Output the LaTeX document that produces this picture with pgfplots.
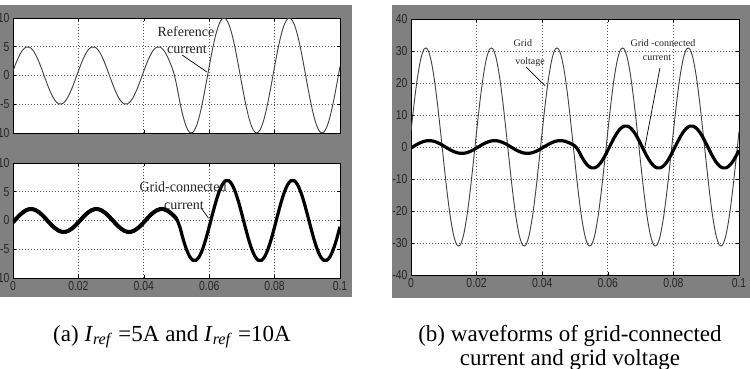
\documentclass[border=0pt]{standalone}
\usepackage{fontspec}
\setmainfont{Liberation Serif}
\newfontfamily\ticksf[FakeStretch=0.8]{Liberation Sans}
\usepackage{pgfplots}
\pgfplotsset{compat=1.18}
\usepackage{pgfplotstable}
\definecolor{panelgray}{rgb}{0.5,0.5,0.5}

\pgfplotstableread{
t iref igl vg igr
0.000 0.78 -0.31 4.84 -0.31
0.001 2.27 0.31 14.07 0.31
0.002 3.54 0.91 21.92 0.91
0.003 4.46 1.41 27.62 1.41
0.004 4.94 1.78 30.63 1.78
0.005 4.94 1.98 30.63 1.98
0.006 4.46 1.98 27.62 1.98
0.007 3.54 1.78 21.92 1.78
0.008 2.27 1.41 14.07 1.41
0.009 0.78 0.91 4.84 0.91
0.010 -0.78 0.31 -4.84 0.31
0.011 -2.27 -0.31 -14.07 -0.31
0.012 -3.54 -0.91 -21.92 -0.91
0.013 -4.46 -1.41 -27.62 -1.41
0.014 -4.94 -1.78 -30.63 -1.78
0.015 -4.94 -1.98 -30.63 -1.98
0.016 -4.46 -1.98 -27.62 -1.98
0.017 -3.54 -1.78 -21.92 -1.78
0.018 -2.27 -1.41 -14.07 -1.41
0.019 -0.78 -0.91 -4.84 -0.91
0.020 0.78 -0.31 4.84 -0.31
0.021 2.27 0.31 14.07 0.31
0.022 3.54 0.91 21.92 0.91
0.023 4.46 1.41 27.62 1.41
0.024 4.94 1.78 30.63 1.78
0.025 4.94 1.98 30.63 1.98
0.026 4.46 1.98 27.62 1.98
0.027 3.54 1.78 21.92 1.78
0.028 2.27 1.41 14.07 1.41
0.029 0.78 0.91 4.84 0.91
0.030 -0.78 0.31 -4.84 0.31
0.031 -2.27 -0.31 -14.07 -0.31
0.032 -3.54 -0.91 -21.92 -0.91
0.033 -4.46 -1.41 -27.62 -1.41
0.034 -4.94 -1.78 -30.63 -1.78
0.035 -4.94 -1.98 -30.63 -1.98
0.036 -4.46 -1.98 -27.62 -1.98
0.037 -3.54 -1.78 -21.92 -1.78
0.038 -2.27 -1.41 -14.07 -1.41
0.039 -0.78 -0.91 -4.84 -0.91
0.040 0.78 -0.31 4.84 -0.31
0.041 2.27 0.31 14.07 0.31
0.042 3.54 0.91 21.92 0.91
0.043 4.46 1.41 27.62 1.41
0.044 4.94 1.78 30.63 1.78
0.045 4.94 1.98 30.63 1.98
0.046 4.46 1.98 27.62 1.98
0.047 3.54 1.78 21.92 1.78
0.048 2.27 1.41 14.07 1.41
0.049 0.78 0.91 4.84 0.91
0.050 -1.56 0.31 -4.84 0.31
0.051 -4.54 -1.09 -14.07 -1.03
0.052 -7.07 -3.18 -21.92 -3.00
0.053 -8.91 -4.95 -27.62 -4.67
0.054 -9.88 -6.24 -30.63 -5.88
0.055 -9.88 -6.92 -30.63 -6.52
0.056 -8.91 -6.92 -27.62 -6.52
0.057 -7.07 -6.24 -21.92 -5.88
0.058 -4.54 -4.95 -14.07 -4.67
0.059 -1.56 -3.18 -4.84 -3.00
0.060 1.56 -1.09 4.84 -1.03
0.061 4.54 1.09 14.07 1.03
0.062 7.07 3.18 21.92 3.00
0.063 8.91 4.95 27.62 4.67
0.064 9.88 6.24 30.63 5.88
0.065 9.88 6.92 30.63 6.52
0.066 8.91 6.92 27.62 6.52
0.067 7.07 6.24 21.92 5.88
0.068 4.54 4.95 14.07 4.67
0.069 1.56 3.18 4.84 3.00
0.070 -1.56 1.09 -4.84 1.03
0.071 -4.54 -1.09 -14.07 -1.03
0.072 -7.07 -3.18 -21.92 -3.00
0.073 -8.91 -4.95 -27.62 -4.67
0.074 -9.88 -6.24 -30.63 -5.88
0.075 -9.88 -6.92 -30.63 -6.52
0.076 -8.91 -6.92 -27.62 -6.52
0.077 -7.07 -6.24 -21.92 -5.88
0.078 -4.54 -4.95 -14.07 -4.67
0.079 -1.56 -3.18 -4.84 -3.00
0.080 1.56 -1.09 4.84 -1.03
0.081 4.54 1.09 14.07 1.03
0.082 7.07 3.18 21.92 3.00
0.083 8.91 4.95 27.62 4.67
0.084 9.88 6.24 30.63 5.88
0.085 9.88 6.92 30.63 6.52
0.086 8.91 6.92 27.62 6.52
0.087 7.07 6.24 21.92 5.88
0.088 4.54 4.95 14.07 4.67
0.089 1.56 3.18 4.84 3.00
0.090 -1.56 1.09 -4.84 1.03
0.091 -4.54 -1.09 -14.07 -1.03
0.092 -7.07 -3.18 -21.92 -3.00
0.093 -8.91 -4.95 -27.62 -4.67
0.094 -9.88 -6.24 -30.63 -5.88
0.095 -9.88 -6.92 -30.63 -6.52
0.096 -8.91 -6.92 -27.62 -6.52
0.097 -7.07 -6.24 -21.92 -5.88
0.098 -4.54 -4.95 -14.07 -4.67
0.099 -1.56 -3.18 -4.84 -3.00
0.100 1.56 -1.09 4.84 -1.03
}\wave

\pgfplotsset{
  scopestyle/.style={
    scale only axis,
    xmin=0, xmax=0.1,
    xtick={0,0.02,0.04,0.06,0.08,0.1},
    scaled x ticks=false,
    xticklabel style={/pgf/number format/fixed,/pgf/number format/precision=2},
    /pgf/number format/assume math mode=true,
    ticklabel style={font=\ticksf\fontsize{13}{14}\selectfont, text=black!85},
    grid=major,
    major grid style={dash pattern=on 1pt off 2pt, black!65, line width=0.8pt},
    axis line style={black, line width=0.7pt},
    tick style={black, line width=0.6pt},
    tick align=inside,
    major tick length=3pt,
    axis background/.style={fill=white},
  },
}
\tikzset{
  anno/.style={font=\fontsize{14}{15}\selectfont, text=black!85, inner sep=0pt},
  annos/.style={font=\fontsize{10}{11}\selectfont, text=black!85, inner sep=0pt},
  capt/.style={font=\fontsize{23}{26}\selectfont, inner sep=0pt, anchor=base},
}

\begin{document}
\begin{tikzpicture}[x=1pt,y=1pt]
\useasboundingbox (0,0) rectangle (750,368);
\clip (0,0) rectangle (750,368);
\fill[panelgray] (-10,71) rectangle (352,363);
\fill[panelgray] (392,70) rectangle (760,363);

% top-left: reference current
\begin{axis}[scopestyle, at={(13pt,235pt)}, anchor=south west,
  width=327pt, height=115pt, ymin=-10, ymax=10,
  ytick={-10,-5,0,5,10}, xticklabels={}]
\addplot[smooth, black!75, line width=0.9pt] table[x=t,y=iref]{\wave};
\node[anno] at (axis cs:0.0529,7.57) {Reference};
\node[anno] at (axis cs:0.0532,4.43) {current};
\draw[black, line width=0.7pt] (axis cs:0.0517,3.57) -- (axis cs:0.0593,0.61);
\end{axis}

% bottom-left: grid-connected current
\begin{axis}[scopestyle, at={(13pt,90pt)}, anchor=south west,
  width=327pt, height=115pt, ymin=-10, ymax=10,
  ytick={-10,-5,0,5,10}]
\addplot[smooth, black, line width=3.2pt] table[x=t,y=igl]{\wave};
\addplot[smooth, black, line width=4pt, restrict x to domain=0:0.0505] table[x=t,y=igl]{\wave};
\node[anno] at (axis cs:0.052,5.83) {Grid-connected};
\node[anno] at (axis cs:0.0523,2.52) {current};
\draw[black, line width=0.7pt] (axis cs:0.0575,2.2) -- (axis cs:0.0598,0.4);
\end{axis}

% right: grid voltage and grid-connected current
\begin{axis}[scopestyle, at={(411pt,93pt)}, anchor=south west,
  width=328pt, height=256pt, ymin=-40, ymax=40,
  ytick={-40,-30,-20,-10,0,10,20,30,40}]
\addplot[smooth, black!75, line width=0.9pt] table[x=t,y=vg]{\wave};
\addplot[smooth, black, line width=3.2pt] table[x=t,y=igr]{\wave};
\node[annos] at (axis cs:0.0341,32.5) {Grid};
\node[annos] at (axis cs:0.0363,26.6) {voltage};
\draw[black, line width=0.7pt] (axis cs:0.0351,25) -- (axis cs:0.0409,19.1);
\node[annos] at (axis cs:0.0768,32.5) {Grid -connected};
\node[annos] at (axis cs:0.0750,27.8) {current};
\draw[black, line width=0.7pt] (axis cs:0.0759,24.7) -- (axis cs:0.0713,0);
\end{axis}

% captions
\node[capt] at (172,27)
  {(a) \textit{I}\textsubscript{\textit{ref}} =5A and \textit{I}\textsubscript{\textit{ref}} =10A};
\node[capt] at (570,27) {(b) waveforms of grid-connected};
\node[capt] at (570,3) {current and grid voltage};
\end{tikzpicture}
\end{document}
